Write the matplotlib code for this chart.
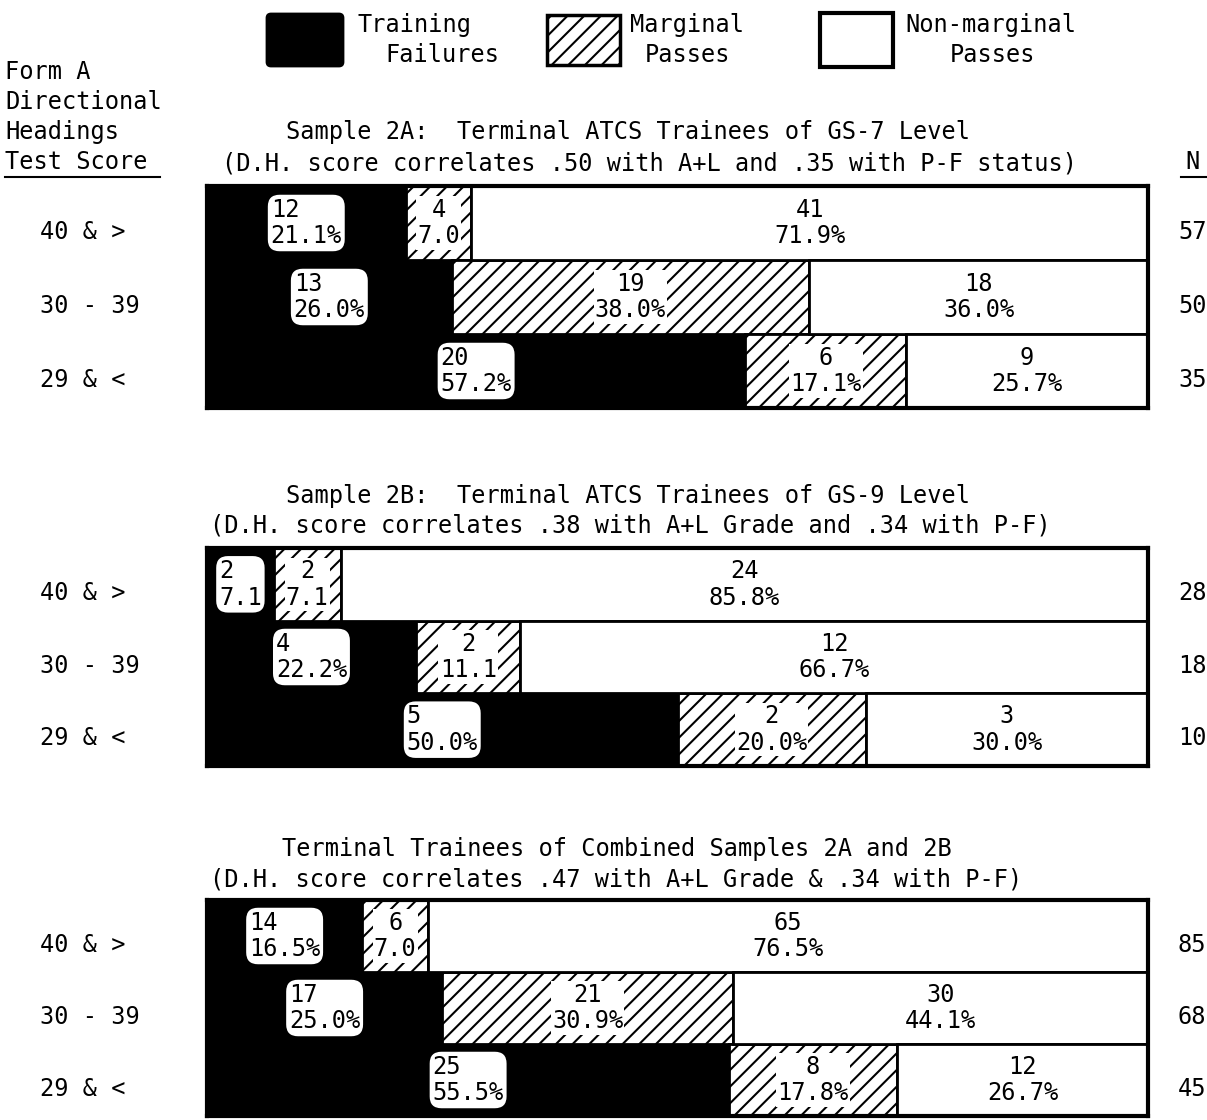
import matplotlib.pyplot as plt
from matplotlib.patches import Rectangle, FancyBboxPatch

# rows (test score bands), top to bottom
rows = ["40 & >", "30 - 39", "29 & <"]

# Sample 2A
fail_n_2a = [12, 13, 20]
marg_n_2a = [4, 19, 6]
non_n_2a = [41, 18, 9]
fail_pct_2a = [21.1, 26.0, 57.2]
marg_pct_2a = [7.0, 38.0, 17.1]
non_pct_2a = [71.9, 36.0, 25.7]
total_2a = [57, 50, 35]

# Sample 2B
fail_n_2b = [2, 4, 5]
marg_n_2b = [2, 2, 2]
non_n_2b = [24, 12, 3]
fail_pct_2b = [7.1, 22.2, 50.0]
marg_pct_2b = [7.1, 11.1, 20.0]
non_pct_2b = [85.8, 66.7, 30.0]
total_2b = [28, 18, 10]

# combined
fail_n_c = [14, 17, 25]
marg_n_c = [6, 21, 8]
non_n_c = [65, 30, 12]
fail_pct_c = [16.5, 25.0, 55.5]
marg_pct_c = [7.0, 30.9, 17.8]
non_pct_c = [76.5, 44.1, 26.7]
total_c = [85, 68, 45]

titles = [
    ("Sample 2A:  Terminal ATCS Trainees of GS-7 Level",
     "(D.H. score correlates .50 with A+L and .35 with P-F status)"),
    ("Sample 2B:  Terminal ATCS Trainees of GS-9 Level",
     "(D.H. score correlates .38 with A+L Grade and .34 with P-F)"),
    ("Terminal Trainees of Combined Samples 2A and 2B",
     "(D.H. score correlates .47 with A+L Grade & .34 with P-F)"),
]

plt.rcParams['font.family'] = ['DejaVu Sans Mono', 'DejaVu Sans']
plt.rcParams['font.size'] = 17
plt.rcParams['hatch.linewidth'] = 1.5

W, H = 1207, 1120
fig = plt.figure(figsize=(W / 100, H / 100), dpi=100)


def px_axes(x0, y0, x1, y1):
    return fig.add_axes([x0 / W, 1 - y1 / H, (x1 - x0) / W, (y1 - y0) / H])


def pct_label(p):
    # narrow segments were printed without the % sign
    return f"{p:.1f}%" if p > 12 else f"{p:.1f}"


# overlay for free text and the legend, in pixel units
lax = fig.add_axes([0, 0, 1, 1])
lax.set_xlim(0, W)
lax.set_ylim(H, 0)
lax.axis('off')

lax.add_patch(FancyBboxPatch((267, 14), 76, 52, boxstyle="round,pad=0,rounding_size=4",
                             fc='black', ec='black', lw=2))
lax.add_patch(Rectangle((547, 15), 73, 50, fc='white', ec='black', lw=2.5, hatch='//'))
lax.add_patch(Rectangle((820, 13), 73, 54, fc='white', ec='black', lw=3))
for x, y, s in [(358, 25, "Training"), (385, 55, "Failures"),
                (630, 25, "Marginal"), (645, 55, "Passes"),
                (905, 25, "Non-marginal"), (950, 55, "Passes")]:
    lax.text(x, y, s, ha='left', va='center')

for y, s in [(72, "Form A"), (102, "Directional"), (132, "Headings"), (162, "Test Score")]:
    lax.text(5, y, s, ha='left', va='center')
lax.plot([5, 160], [177, 177], color='black', lw=1.5)
lax.text(1185, 162, "N", ha='left', va='center')
lax.plot([1181, 1207], [177, 177], color='black', lw=1.5)

panels = [
    (fail_n_2a, marg_n_2a, non_n_2a, fail_pct_2a, marg_pct_2a, non_pct_2a, total_2a,
     (186, 408), (286, 132), (222, 163)),
    (fail_n_2b, marg_n_2b, non_n_2b, fail_pct_2b, marg_pct_2b, non_pct_2b, total_2b,
     (548, 766), (286, 496), (210, 526)),
    (fail_n_c, marg_n_c, non_n_c, fail_pct_c, marg_pct_c, non_pct_c, total_c,
     (900, 1116), (282, 849), (210, 880)),
]

for i, (fn, mn, nn, fp, mp, npct, tot, (top, bot), t1, t2) in enumerate(panels):
    lax.text(t1[0], t1[1], titles[i][0], ha='left', va='center')
    lax.text(t2[0], t2[1], titles[i][1], ha='left', va='center')

    ax = px_axes(207, top, 1148, bot)
    y = list(range(len(rows)))
    left_m = fp
    left_n = [a + b for a, b in zip(fp, mp)]
    ax.barh(y, fp, height=1.0, color='black', edgecolor='black', lw=2)
    ax.barh(y, mp, left=left_m, height=1.0, color='white', edgecolor='black', lw=2, hatch='//')
    ax.barh(y, npct, left=left_n, height=1.0, color='white', edgecolor='black', lw=2)

    ytr = ax.get_yaxis_transform()
    for j in y:
        ax.text(fp[j] / 2, j, f"{fn[j]}\n{pct_label(fp[j])}", ha='center', va='center',
                multialignment='left', linespacing=1.15,
                bbox=dict(boxstyle='round,pad=0.12,rounding_size=0.5', fc='white', ec='none'))
        ax.text(left_m[j] + mp[j] / 2, j, f"{mn[j]}\n{pct_label(mp[j])}", ha='center',
                va='center', multialignment='center', linespacing=1.15,
                bbox=dict(boxstyle='square,pad=0.05', fc='white', ec='none'))
        ax.text(left_n[j] + npct[j] / 2, j, f"{nn[j]}\n{pct_label(npct[j])}", ha='center',
                va='center', multialignment='center', linespacing=1.15)
        ax.text(-0.1775, j + 0.12, rows[j], transform=ytr, ha='left', va='center')
        ax.text(1.047, j + 0.12, str(tot[j]), transform=ytr, ha='center', va='center')

    ax.set_xlim(0, 100)
    ax.set_ylim(len(rows) - 0.5, -0.5)
    ax.set_xticks([])
    ax.set_yticks([])
    for sp in ax.spines.values():
        sp.set_linewidth(3)

fig.savefig("out.png", dpi=100)
